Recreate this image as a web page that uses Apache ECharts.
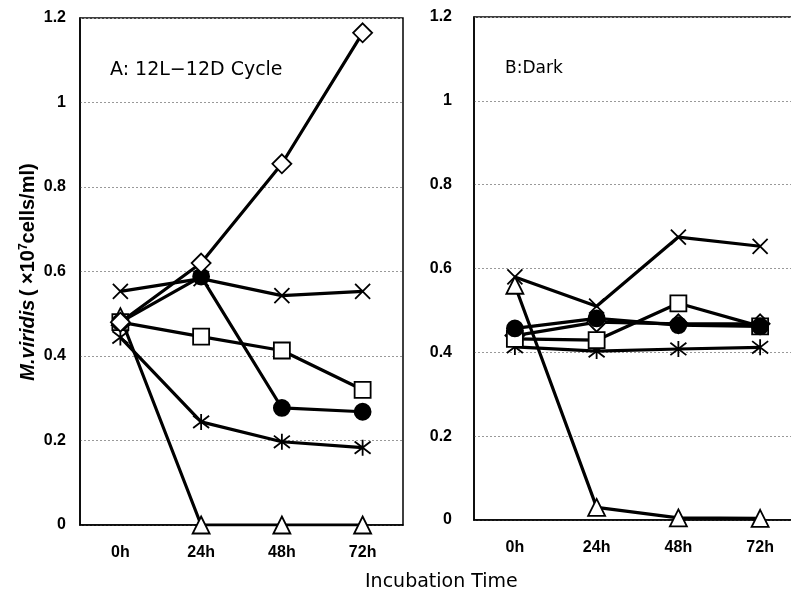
<!DOCTYPE html>
<html><head><meta charset="utf-8">
<script src="https://cdn.jsdelivr.net/npm/echarts@6/dist/echarts.min.js"></script>
<style>html,body{margin:0;padding:0;background:#fff;overflow:hidden}#c{width:801px;height:599px}</style>
</head><body><div id="c"></div>
<script>
const categories = ['0h', '24h', '48h', '72h'];
const yTicks = [0, 0.2, 0.4, 0.6, 0.8, 1.0, 1.2];
// Panel A: 12L-12D Cycle
const diamondA = [0.48, 0.62, 0.855, 1.165];
const crossA = [0.553, 0.583, 0.543, 0.553];
const circleA = [0.48, 0.588, 0.277, 0.268];
const squareA = [0.48, 0.446, 0.413, 0.32];
const asteriskA = [0.444, 0.244, 0.197, 0.183];
const triangleA = [0.493, 0, 0, 0];
// Panel B: Dark
const diamondB = [0.44, 0.472, 0.468, 0.468];
const crossB = [0.58, 0.51, 0.675, 0.653];
const circleB = [0.457, 0.481, 0.465, 0.462];
const squareB = [0.432, 0.429, 0.517, 0.462];
const asteriskB = [0.413, 0.403, 0.408, 0.412];
const triangleB = [0.56, 0.03, 0.005, 0.004];

const X_PATH = 'path://M0,0L10,10M10,0L0,10';
const AST_PATH = 'path://M0,0L10,10M10,0L0,10M5,-1.5L5,11.5';

const FONT = 'Liberation Sans';
function mk(name, data, symbol, size, fill, idx, z) {
  return {
    name, type: 'line', data, xAxisIndex: idx, yAxisIndex: idx,
    symbol, symbolSize: size, showSymbol: true, z: z || 2,
    lineStyle: { color: '#000', width: 3.2 },
    itemStyle: { color: fill, borderColor: '#000', borderWidth: 1.8 },
    emphasis: { disabled: true }, animation: false
  };
}
function yAxis(idx, margin) {
  return {
    type: 'value', gridIndex: idx, min: 0, max: 1.2, interval: 0.2,
    axisLine: { show: true, lineStyle: { color: '#000', width: 1.5 } },
    axisTick: { show: false },
    splitLine: { show: true, lineStyle: { color: '#999', type: [2, 2], width: 1 } },
    axisLabel: { color: '#000', fontFamily: FONT, fontWeight: 'bold', fontSize: 16, margin,
      formatter: v => { const t = yTicks.find(x => Math.abs(x - v) < 1e-6); return String(+(t !== undefined ? t : v).toFixed(1)); } }
  };
}
function xAxis(idx) {
  return {
    type: 'category', gridIndex: idx, data: categories, boundaryGap: true,
    axisLine: { show: true, lineStyle: { color: '#000', width: 1.5 } },
    axisTick: { show: false },
    axisLabel: { color: '#000', fontFamily: FONT, fontWeight: 'bold', fontSize: 16, margin: 20 }
  };
}
const chart = echarts.init(document.getElementById('c'), null, { renderer: 'canvas', width: 801, height: 599 });
chart.setOption({
  animation: false,
  backgroundColor: '#fff',
  grid: [
    { left: 80, top: 18, width: 323, height: 507, show: true, borderColor: '#000', borderWidth: 1.5, containLabel: false },
    { left: 474, top: 17, width: 327, height: 503, show: true, borderColor: '#000', borderWidth: 1.5, containLabel: false }
  ],
  xAxis: [xAxis(0), xAxis(1)],
  yAxis: [yAxis(0, 14), yAxis(1, 22)],
  series: [
    mk('triangleA', triangleA, 'triangle', 17, '#fff', 0),
    mk('asteriskA', asteriskA, AST_PATH, 16, 'none', 0),
    mk('squareA', squareA, 'rect', 16, '#fff', 0),
    mk('circleA', circleA, 'circle', 16, '#000', 0),
    mk('crossA', crossA, X_PATH, 15, 'none', 0),
    mk('diamondA', diamondA, 'diamond', 19, '#fff', 0, 3),
    mk('triangleB', triangleB, 'triangle', 17, '#fff', 1),
    mk('asteriskB', asteriskB, AST_PATH, 16, 'none', 1),
    mk('diamondB', diamondB, 'diamond', 19, '#fff', 1),
    mk('squareB', squareB, 'rect', 16, '#fff', 1),
    mk('circleB', circleB, 'circle', 16, '#000', 1),
    mk('crossB', crossB, X_PATH, 15, 'none', 1)
  ],
  graphic: [
    { type: 'text', left: 110, top: 61, silent: true,
      style: { text: 'A: 12L\u221212D Cycle', font: '19px "DejaVu Sans"', fill: '#000' } },
    { type: 'text', left: 505, top: 60, silent: true,
      style: { text: 'B:Dark', font: '17px "DejaVu Sans"', fill: '#000' } },
    { type: 'text', left: 365, top: 573, silent: true,
      style: { text: 'Incubation Time', font: '19px "DejaVu Sans"', fill: '#000' } },
    { type: 'text', x: 28, y: 272, rotation: Math.PI / 2, silent: true,
      style: {
        text: '{i|M.viridis} {n|( \u00d710}{s|7}{n|cells/ml)}',
        align: 'center', verticalAlign: 'middle',
        rich: {
          i: { fontStyle: 'italic', fontWeight: 'bold', fontSize: 20, fontFamily: FONT, fill: '#000' },
          n: { fontWeight: 'bold', fontSize: 20, fontFamily: FONT, fill: '#000' },
          s: { fontWeight: 'bold', fontSize: 12, fontFamily: FONT, fill: '#000', verticalAlign: 'top', padding: [0, 0, 9, 0] }
        }
      } }
  ]
});
</script></body></html>
